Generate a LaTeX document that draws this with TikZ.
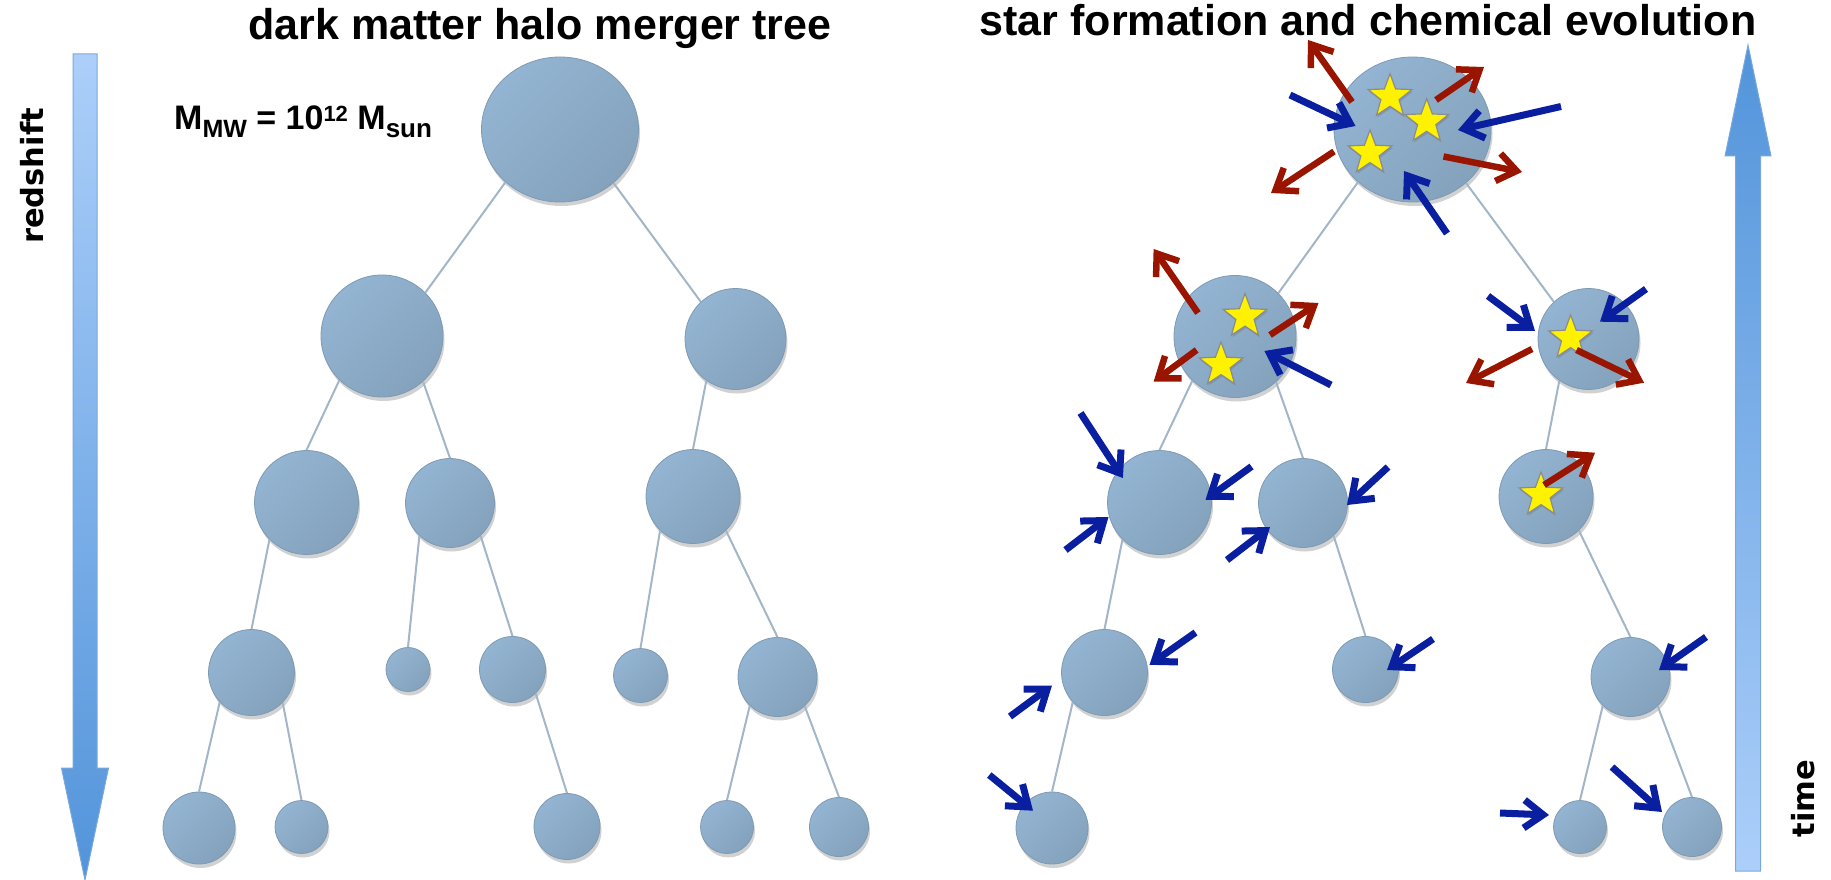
\documentclass[tikz,border=0pt]{standalone}
\usepackage{fontspec}
\setmainfont{Liberation Sans}
\newfontfamily\sidefont{DejaVu Sans}
\usetikzlibrary{shapes.geometric,shadows,arrows.meta}

\definecolor{halotop}{HTML}{93B4D2}
\definecolor{halobot}{HTML}{84A2BC}
\definecolor{haloedge}{HTML}{7D9AB3}
\definecolor{linecol}{HTML}{A2B6C8}
\definecolor{inblue}{HTML}{0A1FA0}
\definecolor{outred}{HTML}{9A1500}
\definecolor{arrowlight}{HTML}{ACCFFA}
\definecolor{arrowdark}{HTML}{5294DA}
\definecolor{arrowedge}{HTML}{7AA8DC}

\tikzset{
  halo/.style={ellipse, inner sep=0pt, minimum size=#1pt, draw=haloedge, line width=0.8pt,
    top color=halotop, bottom color=halobot, shading angle=45,
    drop shadow={opacity=0.3, fill=black!60, shadow xshift=1.5pt, shadow yshift=-4pt}},
  treeline/.style={draw=linecol, line width=2pt},
  sfstar/.style={star, star points=5, star point ratio=2.4, minimum size=46pt, inner sep=0pt,
    fill=yellow, draw=gray!90, line width=1.2pt,
    drop shadow={opacity=0.3, fill=black!60, shadow xshift=1pt, shadow yshift=-2pt}},
  inflow/.style={draw=inblue, line width=7pt, -{Straight Barb[length=19pt,width=28pt]}},
  outflow/.style={draw=outred, line width=6.5pt, -{Straight Barb[length=19pt,width=28pt]}}
}

\begin{document}
\begin{tikzpicture}[x=1pt, y=-1pt]
\useasboundingbox (0,0) rectangle (1831,880);

% draw titles
\node[font=\bfseries\fontsize{43}{50}\selectfont, anchor=base, inner sep=0pt] (lefttitle) at (540,40) {dark matter halo merger tree};
\node[font=\bfseries\fontsize{43}{50}\selectfont, anchor=base, inner sep=0pt] (righttitle) at (1368,36) {star formation and chemical evolution};

% draw halo mass label
\node[font=\bfseries\fontsize{34}{40}\selectfont, anchor=base west, inner sep=0pt] (mass) at (174,130)
  {M\raisebox{-8pt}{\fontsize{25}{30}\selectfont MW} = 10\raisebox{8pt}{\fontsize{22}{26}\selectfont 12} M\raisebox{-8pt}{\fontsize{26}{30}\selectfont sun}};

% draw redshift and time arrows
\shade[draw=arrowedge, line width=1pt, top color=arrowlight, bottom color=arrowdark]
  (73,54) -- (97,54) -- (97,768) -- (108.5,768) -- (85,880) -- (61.5,768) -- (73,768) -- cycle;
\shade[draw=arrowedge, line width=1pt, top color=arrowdark, bottom color=arrowlight]
  (1735.5,871) -- (1760.5,871) -- (1760.5,156) -- (1771,156) -- (1748,45) -- (1725,156) -- (1735.5,156) -- cycle;
\node[font=\sidefont\bfseries\fontsize{30.5}{36}\selectfont, rotate=90, inner sep=0pt] (zlabel) at (31.7,176) {redshift};
\node[font=\sidefont\bfseries\fontsize{30.5}{36}\selectfont, rotate=90, inner sep=0pt] (tlabel) at (1803.5,798.7) {time};

% draw halos of the merger tree
\node[halo=145, minimum width=157pt] (L0) at (560,129.5) {};
\foreach \n/\x/\y/\d in {L1a/382/336/122, L1b/735.5/339/101,
  L2a/306.5/502.5/104, L2b/450/503/89, L2c/693/496.5/94,
  L3a/251.5/672.5/86, L3b/408/669.5/44, L3c/512.5/669.5/66, L3d/640.5/675.5/54, L3e/777.5/677/79,
  L4a/199/828/72, L4b/301.5/827/53, L4c/567/826.5/66, L4d/727/827/53, L4e/839/827/59}
  \node[halo=\d] (\n) at (\x,\y) {};

% draw halos of the evolving tree
\node[halo=145, minimum width=157pt] (R0) at (1412.5,129.5) {};
\foreach \n/\x/\y/\d in {R1a/1235/336.5/122, R1b/1588.5/339/101,
  R2a/1159.5/502.5/104, R2b/1303/503/89, R2c/1546/496.5/94,
  R3a/1104.5/672.5/86, R3c/1365.5/669.5/66, R3e/1630.5/677/79,
  R4a/1052/828/72, R4d/1580/827/53, R4e/1692/827/59}
  \node[halo=\d] (\n) at (\x,\y) {};

% draw branches
\foreach \a/\b in {L0.224/L1a.45, L0.315/L1b.133, L1a.226/L2a.north, L1a.312/L2b.north,
  L1b.235/L2c.north, L2a.225/L3a.north, L2b.227/L3b.north, L2b.313/L3c.north,
  L2c.226/L3d.north, L2c.314/L3e.north, L3a.223/L4a.north, L3a.316/L4b.north,
  L3c.314/L4c.north, L3e.226/L4d.north, L3e.313/L4e.north,
  R0.224/R1a.45, R0.315/R1b.133, R1a.226/R2a.north, R1a.312/R2b.north,
  R1b.235/R2c.north, R2a.225/R3a.north, R2b.313/R3c.north, R2c.314/R3e.north,
  R3a.223/R4a.north, R3e.226/R4d.north, R3e.313/R4e.north}
  \draw[treeline] (\a) -- (\b);

% draw stars
\foreach \s/\x/\y in {st1/1390/96.7, st2/1426.7/121.7, st3/1370/153, st4/1245/316.5,
  st5/1221/365, st6/1570.6/338, st7/1541/495}
  \node[sfstar] (\s) at (\x,\y) {};

% draw gas falling in
\foreach \h/\ox/\oy/\vx/\vy in {R0/-122.5/-34.5/65.5/31, R0/148.5/-23/-103/23.5, R0/34.5/104/-43/-62.5,
  R1a/96/48.5/-66.6/-34, R1b/-100.5/-43/47/35, R1b/57.5/-50/-46/32.7,
  R2a/-79/-89.5/42.4/65, R2a/92/-36/-46/33.3, R2a/-94/47.5/43/-33,
  R2b/85/-36/-41/38, R2b/-76/57/43/-33, R3a/91/-40/-46/32.3, R3a/-94.5/44/42/-31,
  R3c/67.5/-30.5/-46/31, R3e/75.5/-40/-47/33, R4a/-62.7/-53/43.7/35.7,
  R4d/-80/-14/49/2, R4e/-80/-60/50/45}
  \draw[inflow] ([shift={(\ox,\oy)}]\h.center) -- ++(\vx,\vy);

% draw outflows
\foreach \h/\ox/\oy/\vx/\vy in {R0/-60.5/-27.5/-44/-62, R0/23.5/-29.5/48/-33, R0/31/27/78.5/15.5,
  R0/-78.5/22/-63/41.5, R1a/-37/-23.5/-44.4/-64, R1a/35/-1.5/48.5/-32, R1a/-38.4/13.5/-43/31.7,
  R1b/-56.5/10/-66/34, R1b/-12/11/67.5/32.7, R2c/-2/-11.5/51/-32.3}
  \draw[outflow] ([shift={(\ox,\oy)}]\h.center) -- ++(\vx,\vy);
\end{tikzpicture}
\end{document}
